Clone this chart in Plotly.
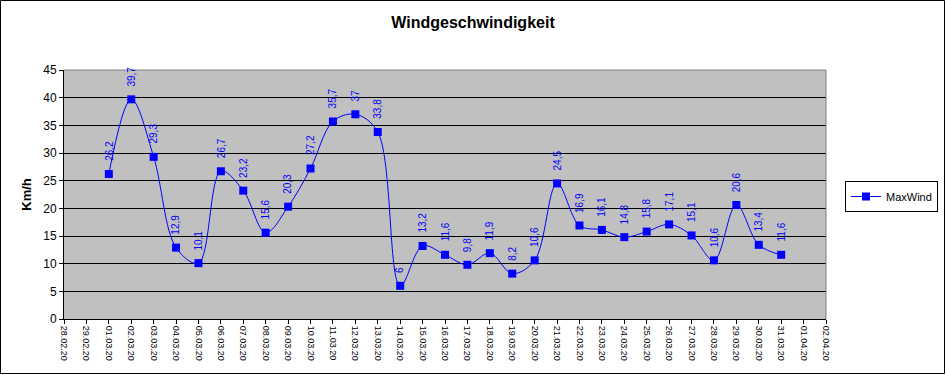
import plotly.graph_objects as go

dates = ["2020-03-%02d" % d for d in range(1, 32)]
max_wind = [26.2, 39.7, 29.3, 12.9, 10.1, 26.7, 23.2, 15.6, 20.3, 27.2, 35.7, 37, 33.8, 6,
            13.2, 11.6, 9.8, 11.9, 8.2, 10.6, 24.5, 16.9, 16.1, 14.8, 15.8, 17.1, 15.1,
            10.6, 20.6, 13.4, 11.6]
x_range = ["2020-02-28", "2020-04-02"]
y_ticks = list(range(0, 50, 5))

W, H = 946, 375
ml, mr, mt, mb = 64, 120, 70, 56
pw, ph = W - ml - mr, H - mt - mb

fig = go.Figure()
fig.add_trace(go.Scatter(
    x=dates, y=max_wind, mode="lines+markers", name="MaxWind",
    line=dict(color="#0000FF", width=1, shape="spline", smoothing=1),
    marker=dict(symbol="square", size=8, color="#0000FF"),
))

def fmt(v):
    return ("%g" % v).replace(".", ",")

for d, v in zip(dates, max_wind):
    fig.add_annotation(x=d, y=v, text=fmt(v), textangle=-90, showarrow=False,
                       xanchor="center", yanchor="bottom", yshift=11,
                       font=dict(family="Arial, Liberation Sans", size=10, color="#0000FF"))

# outer border
fig.add_shape(type="rect", xref="paper", yref="paper",
              x0=(-ml + 0.5) / pw, x1=(W - ml - 1.5) / pw,
              y0=(-mb + 1.5) / ph, y1=(ph + mt - 0.5) / ph,
              line=dict(color="black", width=1), layer="below")
# plot area top/right gray border
fig.add_shape(type="line", xref="paper", yref="paper", x0=0, x1=1, y0=1, y1=1,
              line=dict(color="#808080", width=1))
fig.add_shape(type="line", xref="paper", yref="paper", x0=1, x1=1, y0=0, y1=1,
              line=dict(color="#808080", width=1))

fig.update_layout(
    width=W, height=H, margin=dict(l=ml, r=mr, t=mt, b=mb, autoexpand=False),
    paper_bgcolor="white", plot_bgcolor="#C0C0C0",
    font=dict(family="Arial, Liberation Sans", color="black"),
    title=dict(text="<b>Windgeschwindigkeit</b>", x=0.5, xref="container", xanchor="center",
               y=1 - 22 / H, yref="container", yanchor="middle",
               font=dict(size=16, family="Arial, Liberation Sans", color="black")),
    showlegend=True,
    legend=dict(x=(845 - ml) / pw, y=(ph - (181 - mt)) / ph, xanchor="left", yanchor="top",
                bgcolor="white", bordercolor="black", borderwidth=1,
                font=dict(size=11, family="Arial, Liberation Sans"), itemwidth=30),
    xaxis=dict(type="date", range=x_range, dtick=86400000, tick0="2020-02-28",
               tickformat="%d.%m.%y", tickangle=90, ticks="outside", ticklen=4,
               tickcolor="black", showgrid=False, showline=True, linecolor="black",
               linewidth=1, tickfont=dict(size=9, family="Arial, Liberation Sans"),
               zeroline=False, fixedrange=True, automargin=False),
    yaxis=dict(range=[0, 45], tickvals=y_ticks, ticks="outside", ticklen=4,
               tickcolor="black", showgrid=True, gridcolor="black", gridwidth=1,
               showline=True, linecolor="black", linewidth=1, zeroline=False,
               automargin=False, fixedrange=True,
               tickfont=dict(size=12, family="Arial, Liberation Sans"),
               title=dict(text="<b>Km/h</b>", font=dict(size=13), standoff=8)),
    separators=",.",
)

fig.write_html("out.html", config={"displayModeBar": False},
               post_script="document.body.style.margin='0';document.body.style.overflow='hidden';")
